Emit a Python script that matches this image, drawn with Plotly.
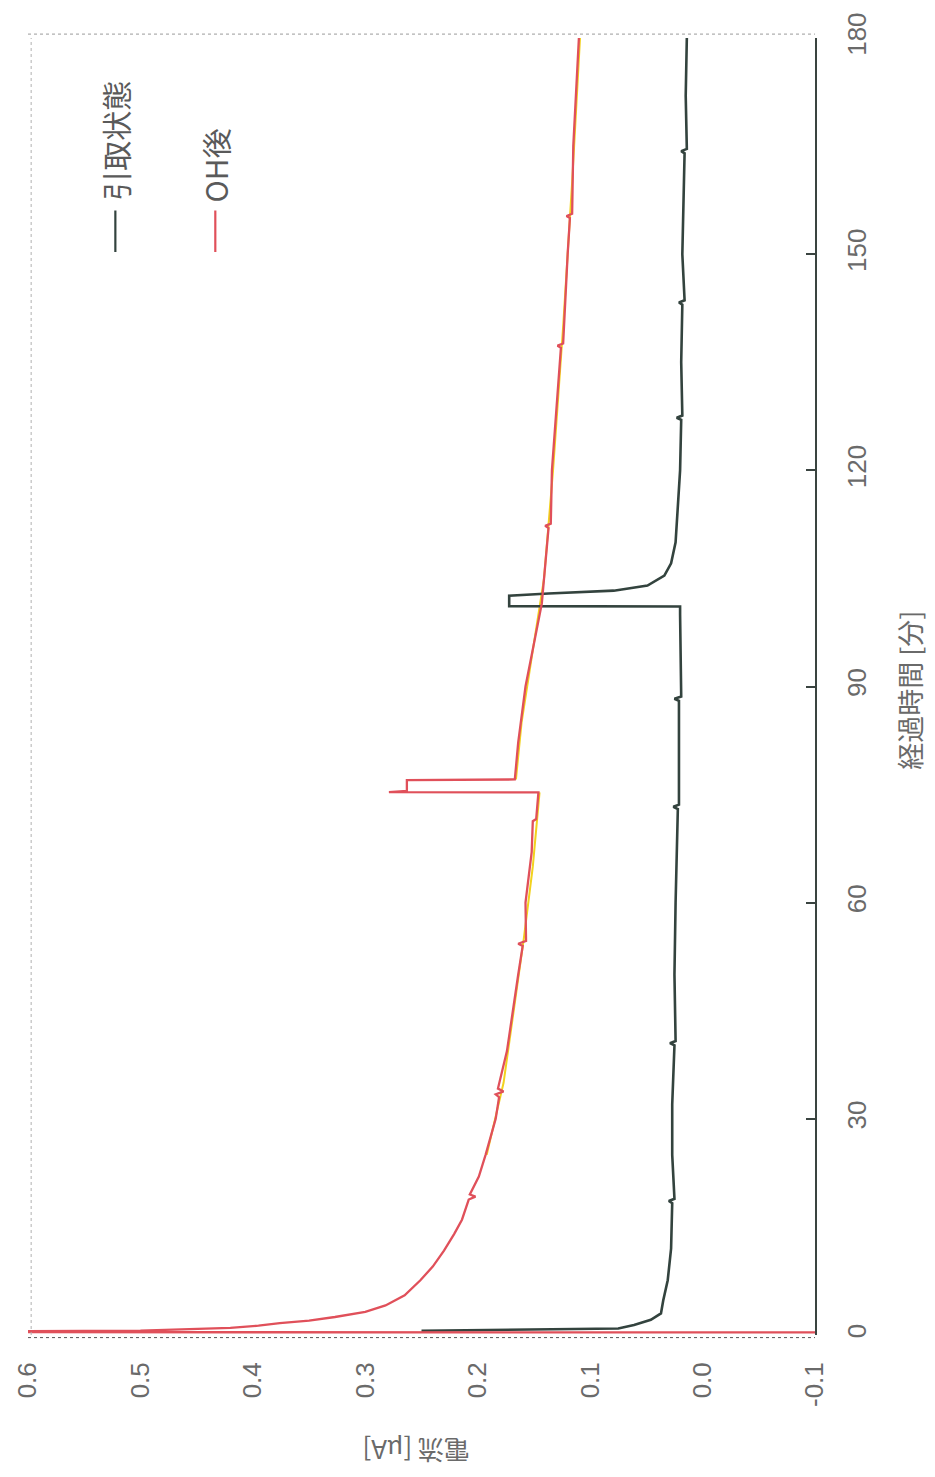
import plotly.graph_objects as go

# ---- data ----
# 引取状態 (black series): elapsed time [min] and current [uA]
black_t = [0.6, 0.9, 1.4, 2.1, 3.0, 4.8, 7.6, 12, 18.3, 18.6, 18.9, 25, 32,
           40.2, 40.5, 40.8, 50, 60, 73, 73.3, 73.6, 88, 88.3, 88.6, 100,
           101.1, 101.15, 102.6, 102.9, 103.3, 104.0, 105.4, 107.1, 110, 115,
           120, 127, 127.3, 127.6, 135, 143, 143.3, 143.6, 150, 164, 164.3,
           164.6, 172, 180]
black_i = [0.250, 0.075, 0.061, 0.046, 0.037, 0.035, 0.031, 0.028, 0.027, 0.030,
           0.025, 0.027, 0.027, 0.025, 0.029, 0.024, 0.025, 0.024, 0.022, 0.026,
           0.021, 0.021, 0.025, 0.019, 0.020, 0.020, 0.172, 0.172, 0.137, 0.079,
           0.049, 0.034, 0.028, 0.024, 0.022, 0.020, 0.019, 0.023, 0.018, 0.019,
           0.018, 0.021, 0.016, 0.018, 0.016, 0.019, 0.014, 0.015, 0.014]

# OH後 (red series)
red_t = [0.35, 0.40, 0.60, 1.0, 1.3, 1.66, 2.0, 2.5, 3.2, 4.1, 5.5, 7.6, 9.5,
         11.7, 14, 16, 18.8, 19.2, 19.5, 22, 25, 30, 33, 33.4, 33.8, 34.2,
         39.4, 45, 50, 54, 54.3, 54.7, 60, 67, 71.3, 71.6, 75.3, 75.35, 75.5,
         77.0, 77.1, 82.2, 90, 101.5, 110, 112, 112.3, 112.6, 120, 135, 137,
         137.3, 137.6, 150, 155, 155.3, 155.6, 165, 180]
red_i = [-0.15, 0.75, 0.50, 0.42, 0.395, 0.376, 0.350, 0.327, 0.300, 0.282,
         0.265, 0.251, 0.240, 0.230, 0.221, 0.214, 0.208, 0.202, 0.207, 0.199,
         0.193, 0.184, 0.181, 0.184, 0.177, 0.182, 0.174, 0.169, 0.164, 0.160,
         0.164, 0.157, 0.1575, 0.152, 0.151, 0.148, 0.146, 0.279, 0.263, 0.263,
         0.167, 0.164, 0.1575, 0.143, 0.138, 0.137, 0.140, 0.135, 0.134, 0.127,
         0.126, 0.129, 0.124, 0.120, 0.118, 0.121, 0.116, 0.115, 0.110]

# yellow trend line under the red series
yel_t = [25, 35, 45, 55, 65, 75.3, None, 77.1, 85, 95, 105, 120, 140, 160, 180]
yel_i = [0.192, 0.177, 0.168, 0.159, 0.151, 0.145, None, 0.166, 0.161, 0.151,
         0.141, 0.133, 0.124, 0.116, 0.109]

x_ticks = [0.6, 0.5, 0.4, 0.3, 0.2, 0.1, 0.0, -0.1]
x_ticktext = ["0.6", "0.5", "0.4", "0.3", "0.2", "0.1", "0.0", "-0.1"]
y_ticks = [0, 30, 60, 90, 120, 150, 180]

legend_names = ["引取状態", "OH後"]
colors = ["#33433e", "#e0505a"]

NUM_FONT = "Liberation Sans, Arial, sans-serif"
JP_FONT = "Noto Sans CJK JP, sans-serif"
TXT = "#6a6a6a"

fig = go.Figure()
fig.add_trace(go.Scatter(x=yel_i, y=yel_t, mode="lines", showlegend=False,
                         line=dict(color="#f2d21e", width=2.0), connectgaps=False,
                         hoverinfo="skip"))
fig.add_trace(go.Scatter(x=black_i, y=black_t, mode="lines", name=legend_names[0],
                         showlegend=False, line=dict(color=colors[0], width=2.6)))
fig.add_trace(go.Scatter(x=red_i, y=red_t, mode="lines", name=legend_names[1],
                         showlegend=False, line=dict(color=colors[1], width=2.3)))

fig.update_layout(
    width=935, height=1477, autosize=False,
    margin=dict(l=24, r=120, t=32, b=142),
    paper_bgcolor="white", plot_bgcolor="white",
    xaxis=dict(range=[0.6, -0.1], tickvals=x_ticks, ticktext=x_ticktext,
               tickangle=-90, ticks="", showgrid=False, zeroline=False,
               showline=False, ticklabelstandoff=21,
               tickfont=dict(family=NUM_FONT, size=26, color=TXT)),
    yaxis=dict(range=[0, 180], tickvals=y_ticks, side="right", tickangle=-90,
               ticks="inside", ticklen=9, tickwidth=1.5, tickcolor="#3a4440",
               showline=True, linecolor="#3a4440", linewidth=1.5,
               showgrid=False, zeroline=False, ticklabelstandoff=18,
               tickfont=dict(family=NUM_FONT, size=26, color=TXT)),
)

# dotted frame (original chart border)
fig.add_shape(type="line", xref="paper", yref="paper", x0=0, x1=1, y0=1.003, y1=1.003,
              line=dict(color="#9a9a9a", width=1, dash="dot"))
fig.add_shape(type="line", xref="paper", yref="paper", x0=0.004, x1=0.004, y0=0, y1=1,
              line=dict(color="#b0b0b0", width=1, dash="dot"))
fig.add_shape(type="line", xref="paper", yref="paper", x0=0, x1=1, y0=-0.002, y1=-0.002,
              line=dict(color="#555555", width=1, dash="dot"))

# legend drawn rotated like the reference
leg = [(0.111, 0.867, 0.835, 0.921), (0.238, 0.867, 0.835, 0.902)]
for (lx, ly0, ly1, ty), name, col in zip(leg, legend_names, colors):
    fig.add_shape(type="line", xref="paper", yref="paper", x0=lx, x1=lx, y0=ly0, y1=ly1,
                  line=dict(color=col, width=2.2))
    fig.add_annotation(xref="paper", yref="paper", x=lx, y=ty, text=name,
                       textangle=-90, showarrow=False, xanchor="center", yanchor="middle",
                       font=dict(family=JP_FONT, size=30, color="#5a5a5a"))

# axis titles
fig.add_annotation(xref="paper", yref="paper", x=1.12, y=0.497, text="経過時間 [分]",
                   textangle=-90, showarrow=False, xanchor="center", yanchor="middle",
                   font=dict(family=JP_FONT, size=27, color=TXT))
fig.add_annotation(xref="paper", yref="paper", x=0.493, y=-0.0898, text="電流 [μA]",
                   textangle=180, showarrow=False, xanchor="center", yanchor="middle",
                   font=dict(family=JP_FONT, size=26, color=TXT))

fig.write_html("out.html")
